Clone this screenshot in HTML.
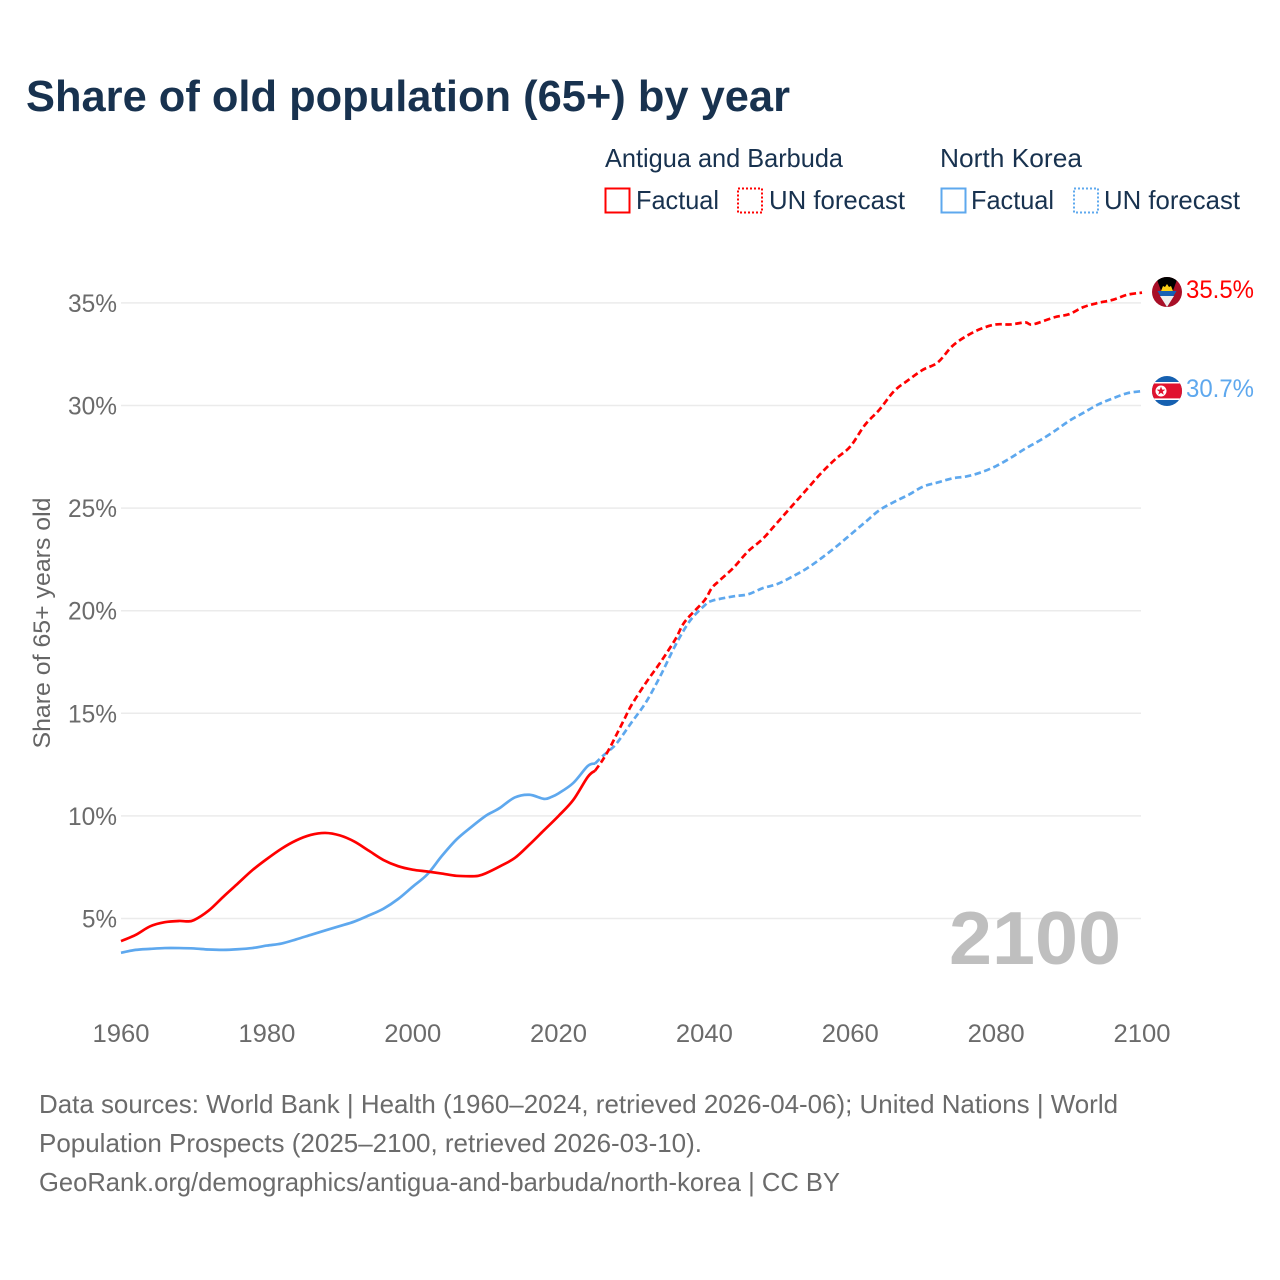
<!DOCTYPE html>
<html>
<head>
<meta charset="utf-8">
<title>Share of old population (65+) by year</title>
<style>
html,body{margin:0;padding:0;background:#fff;}
svg{display:block;font-family:"Liberation Sans",sans-serif;}
</style>
</head>
<body>
<svg id="chart" width="1280" height="1280" viewBox="0 0 1280 1280" xmlns="http://www.w3.org/2000/svg">
<rect width="1280" height="1280" fill="#fff"/>
<text x="26" y="111" font-size="44" font-weight="bold" fill="#18324f" textLength="764" lengthAdjust="spacingAndGlyphs">Share of old population (65+) by year</text>

<g font-size="26" fill="#18324f">
<text x="605" y="167" textLength="238" lengthAdjust="spacingAndGlyphs">Antigua and Barbuda</text>
<text x="940" y="167" textLength="142" lengthAdjust="spacingAndGlyphs">North Korea</text>
<rect x="605.5" y="188.5" width="24" height="24" fill="none" stroke="#ff0000" stroke-width="2"/>
<text x="636" y="209" textLength="83" lengthAdjust="spacingAndGlyphs">Factual</text>
<rect x="738" y="188.5" width="24" height="24" fill="none" stroke="#ff0000" stroke-width="2" stroke-dasharray="2 2"/>
<text x="769" y="209" textLength="136" lengthAdjust="spacingAndGlyphs">UN forecast</text>
<rect x="941.5" y="188.5" width="24" height="24" fill="none" stroke="#5ea8ee" stroke-width="2"/>
<text x="971" y="209" textLength="83" lengthAdjust="spacingAndGlyphs">Factual</text>
<rect x="1074" y="188.5" width="24" height="24" fill="none" stroke="#5ea8ee" stroke-width="2" stroke-dasharray="2 2"/>
<text x="1104" y="209" textLength="136" lengthAdjust="spacingAndGlyphs">UN forecast</text>
</g>

<text transform="translate(50,623) rotate(-90)" text-anchor="middle" font-size="24" fill="#666" textLength="251" lengthAdjust="spacingAndGlyphs">Share of 65+ years old</text>

<g id="grid"></g>
<g id="yticks"></g>
<g id="xticks"></g>

<text x="949" y="964" font-size="75" font-weight="bold" fill="#bfbfbf" textLength="172" lengthAdjust="spacingAndGlyphs">2100</text>

<g id="series"></g>

<g id="flag-antigua">
<defs>
<clipPath id="clip-a"><circle cx="1167" cy="292" r="15"/></clipPath>
<clipPath id="clip-k"><circle cx="1167" cy="391" r="15"/></clipPath>
</defs>
<g clip-path="url(#clip-a)">
<rect x="1152" y="277" width="30" height="30" fill="#a80f27"/>
<polygon points="1156,277 1178,277 1167,307" fill="#000"/>
<polygon points="1157.5,291 1176.5,291 1167,307" fill="#1660b5"/>
<polygon points="1160,296 1174,296 1167,307" fill="#eeeeee"/>
<polygon points="1161,291 1163,286 1165,287 1167,284 1169,287 1171,286 1173,291" fill="#fcd116"/>
</g>
</g>
<g id="flag-korea">
<g clip-path="url(#clip-k)">
<rect x="1152" y="376" width="30" height="30" fill="#1560b0"/>
<rect x="1152" y="382" width="30" height="1.6" fill="#fff"/>
<rect x="1152" y="383.5" width="30" height="15" fill="#e0122e"/>
<rect x="1152" y="398.4" width="30" height="1.6" fill="#fff"/>
<circle cx="1161" cy="391" r="5.5" fill="#fff"/>
<polygon points="1161,386.5 1162.2,389.6 1165.4,389.6 1162.8,391.6 1163.8,394.8 1161,392.9 1158.2,394.8 1159.2,391.6 1156.6,389.6 1159.8,389.6" fill="#e0122e"/>
</g>
</g>
<text id="value-antigua" x="1186" y="298" font-size="25" fill="#ff0000" textLength="68" lengthAdjust="spacingAndGlyphs">35.5%</text>
<text id="value-korea" x="1186" y="397" font-size="25" fill="#5ea8ee" textLength="68" lengthAdjust="spacingAndGlyphs">30.7%</text>

<g font-size="26" fill="#6b6b6b">
<text x="39" y="1113" textLength="1079" lengthAdjust="spacingAndGlyphs">Data sources: World Bank | Health (1960–2024, retrieved 2026-04-06); United Nations | World</text>
<text x="39" y="1152" textLength="663" lengthAdjust="spacingAndGlyphs">Population Prospects (2025–2100, retrieved 2026-03-10).</text>
<text x="39" y="1191" textLength="801" lengthAdjust="spacingAndGlyphs">GeoRank.org/demographics/antigua-and-barbuda/north-korea | CC BY</text>
</g>
</svg>
<script>
const xTickYears = [1960, 1980, 2000, 2020, 2040, 2060, 2080, 2100];
const yTickValues = [5, 10, 15, 20, 25, 30, 35];

const antiguaFactualYears = [1960,1962,1964,1966,1968,1969,1970,1972,1974,1976,1978,1980,1982,1984,1986,1988,1990,1992,1994,1996,1998,2000,2002,2004,2006,2008,2009,2010,2012,2014,2016,2018,2020,2022,2024,2025];
const antiguaFactualValues = [3.9,4.2,4.62,4.82,4.88,4.86,4.92,5.38,6.05,6.7,7.35,7.9,8.4,8.8,9.07,9.17,9.05,8.75,8.3,7.85,7.55,7.38,7.29,7.19,7.08,7.06,7.08,7.2,7.55,7.95,8.6,9.3,10,10.77,11.9,12.2];

const antiguaForecastYears = [2025,2026,2027,2028,2029,2030,2032,2034,2036,2037,2038,2040,2041,2042,2044,2046,2048,2050,2052,2054,2056,2058,2060,2062,2064,2066,2068,2070,2072,2074,2076,2078,2080,2082,2084,2085,2088,2090,2092,2094,2096,2098,2100];
const antiguaForecastValues = [12.2,12.7,13.3,14,14.7,15.4,16.5,17.5,18.6,19.3,19.75,20.5,21.1,21.45,22.1,22.9,23.5,24.3,25.1,25.9,26.7,27.4,28,29.05,29.8,30.7,31.25,31.75,32.1,32.9,33.4,33.75,33.95,33.95,34.05,33.95,34.3,34.45,34.8,35,35.15,35.4,35.5];

const koreaFactualYears = [1960,1962,1964,1966,1968,1970,1972,1974,1976,1978,1980,1982,1984,1986,1988,1990,1992,1994,1996,1998,2000,2002,2004,2006,2008,2010,2011,2012,2014,2016,2018,2019,2020,2022,2024,2025];
const koreaFactualValues = [3.33,3.47,3.52,3.56,3.56,3.54,3.49,3.47,3.5,3.56,3.68,3.78,3.98,4.2,4.42,4.63,4.85,5.15,5.48,5.95,6.55,7.15,8.05,8.85,9.45,10,10.2,10.4,10.9,11.03,10.83,10.92,11.1,11.6,12.43,12.55];

const koreaForecastYears = [2025,2026,2027,2028,2030,2032,2034,2036,2038,2040,2041,2044,2046,2048,2050,2052,2054,2056,2058,2060,2062,2064,2066,2068,2070,2072,2074,2076,2078,2080,2082,2084,2086,2088,2090,2092,2094,2096,2098,2100];
const koreaForecastValues = [12.55,12.9,13.2,13.55,14.55,15.55,16.85,18.3,19.5,20.25,20.48,20.7,20.8,21.1,21.3,21.65,22.05,22.55,23.1,23.7,24.3,24.9,25.3,25.65,26.05,26.25,26.45,26.55,26.75,27.05,27.45,27.9,28.3,28.75,29.25,29.65,30.05,30.35,30.6,30.7];

const SVGNS = 'http://www.w3.org/2000/svg';
function xScale(year) { return 121 + (year - 1960) * (1021 / 140); }
function yScale(value) { return 1021.1 - value * 20.52; }

function makeEl(tag, attrs, parent) {
  const el = document.createElementNS(SVGNS, tag);
  Object.keys(attrs).forEach(function (k) { el.setAttribute(k, attrs[k]); });
  parent.appendChild(el);
  return el;
}

const gridGroup = document.getElementById('grid');
const yTickGroup = document.getElementById('yticks');
const xTickGroup = document.getElementById('xticks');
const seriesGroup = document.getElementById('series');

yTickValues.forEach(function (v) {
  const line = makeEl('line', {x1: 121, x2: 1141, y1: yScale(v), y2: yScale(v), stroke: '#ebebeb', 'stroke-width': 1.5}, gridGroup);
  
  
  const label = makeEl('text', {x: 117, y: yScale(v) + 9, 'text-anchor': 'end', 'font-size': 25, fill: '#6b6b6b', textLength: v >= 10 ? 49 : 35, lengthAdjust: 'spacingAndGlyphs'}, yTickGroup);
  label.textContent = v + '%';
  
  
});

xTickYears.forEach(function (yr) {
  const label = makeEl('text', {x: xScale(yr), y: 1042, 'text-anchor': 'middle', 'font-size': 25, fill: '#6b6b6b', textLength: 57, lengthAdjust: 'spacingAndGlyphs'}, xTickGroup);
  label.textContent = String(yr);
  
  
});

function smoothPath(years, values) {
  const pts = years.map(function (y, i) { return [xScale(y), yScale(values[i])]; });
  let d = 'M' + pts[0][0].toFixed(2) + ' ' + pts[0][1].toFixed(2);
  for (let i = 0; i < pts.length - 1; i++) {
    const p0 = pts[Math.max(i - 1, 0)], p1 = pts[i], p2 = pts[i + 1], p3 = pts[Math.min(i + 2, pts.length - 1)];
    const c1x = p1[0] + (p2[0] - p0[0]) / 6, c1y = p1[1] + (p2[1] - p0[1]) / 6;
    const c2x = p2[0] - (p3[0] - p1[0]) / 6, c2y = p2[1] - (p3[1] - p1[1]) / 6;
    d += 'C' + c1x.toFixed(2) + ' ' + c1y.toFixed(2) + ' ' + c2x.toFixed(2) + ' ' + c2y.toFixed(2) + ' ' + p2[0].toFixed(2) + ' ' + p2[1].toFixed(2);
  }
  return d;
}

function drawLine(years, values, color, dashed) {
  const attrs = {d: smoothPath(years, values), fill: 'none', stroke: color, 'stroke-width': 2.7, 'stroke-linejoin': 'round'};
  if (dashed) { attrs['stroke-dasharray'] = '6.5 3.5'; }
  return makeEl('path', attrs, seriesGroup);
}

const koreaFactualLine = drawLine(koreaFactualYears, koreaFactualValues, '#5ea8ee', false);



const koreaForecastLine = drawLine(koreaForecastYears, koreaForecastValues, '#5ea8ee', true);



const antiguaFactualLine = drawLine(antiguaFactualYears, antiguaFactualValues, '#ff0000', false);



const antiguaForecastLine = drawLine(antiguaForecastYears, antiguaForecastValues, '#ff0000', true);


</script>
</body>
</html>
